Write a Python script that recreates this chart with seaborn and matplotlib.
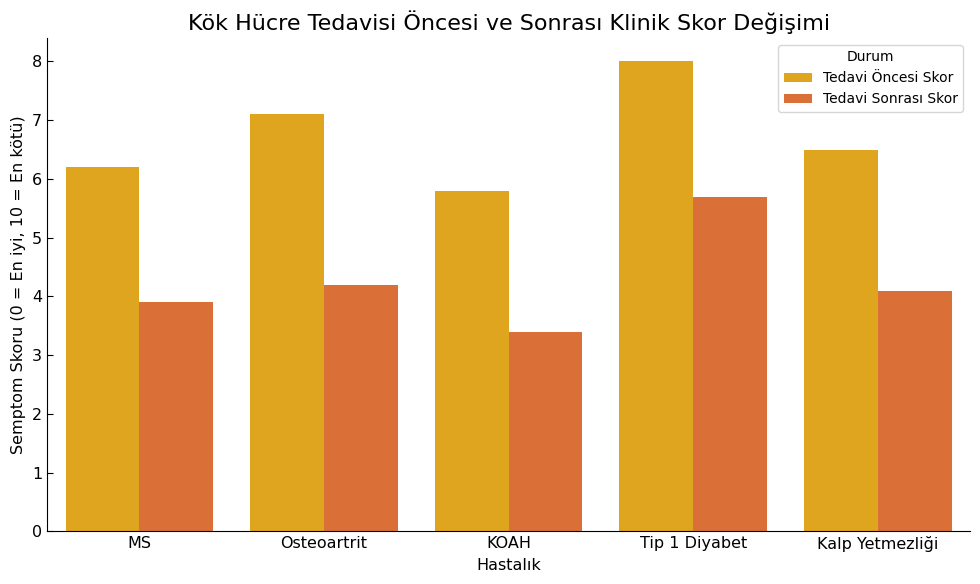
import matplotlib
matplotlib.use("Agg")
import matplotlib.pyplot as plt
import seaborn as sns
import pandas as pd

diseases = ["MS", "Osteoartrit", "KOAH", "Tip 1 Diyabet", "Kalp Yetmezliği"]
before = [6.2, 7.1, 5.8, 8.0, 6.5]
after = [3.9, 4.2, 3.4, 5.7, 4.1]
series_names = ["Tedavi Öncesi Skor", "Tedavi Sonrası Skor"]
colors = ["#E0A51F", "#DB6F38"]

df = pd.DataFrame({
    "Hastalık": diseases * 2,
    "Skor": before + after,
    "Durum": [series_names[0]] * len(diseases) + [series_names[1]] * len(diseases),
})

sns.set_style("white")
plt.rcParams['font.family'] = ['DejaVu Sans']
plt.rcParams['text.color'] = 'black'
plt.rcParams['axes.labelcolor'] = 'black'
plt.rcParams['xtick.color'] = 'black'
plt.rcParams['ytick.color'] = 'black'

fig, ax = plt.subplots(figsize=(9.8, 5.84), dpi=100)
sns.barplot(data=df, x="Hastalık", y="Skor", hue="Durum", palette=colors,
            saturation=1, edgecolor="none", linewidth=0, ax=ax)
ax.set_title("Kök Hücre Tedavisi Öncesi ve Sonrası Klinik Skor Değişimi", fontsize=16, color="black")
ax.set_xlabel("Hastalık", fontsize=11.5)
ax.set_ylabel("Semptom Skoru (0 = En iyi, 10 = En kötü)", fontsize=11.5)
ax.tick_params(axis='both', direction='in', length=4, labelsize=11.5, left=True, bottom=True)
sns.despine(ax=ax)
for s in ["left", "bottom"]:
    ax.spines[s].set_color("black")
leg = ax.legend(title="Durum", loc="upper right", fontsize=10, title_fontsize=10)
leg.get_frame().set_edgecolor("#cccccc")
fig.subplots_adjust(left=0.048, right=0.99, top=0.935, bottom=0.09)
fig.savefig("out.png", dpi=100)
